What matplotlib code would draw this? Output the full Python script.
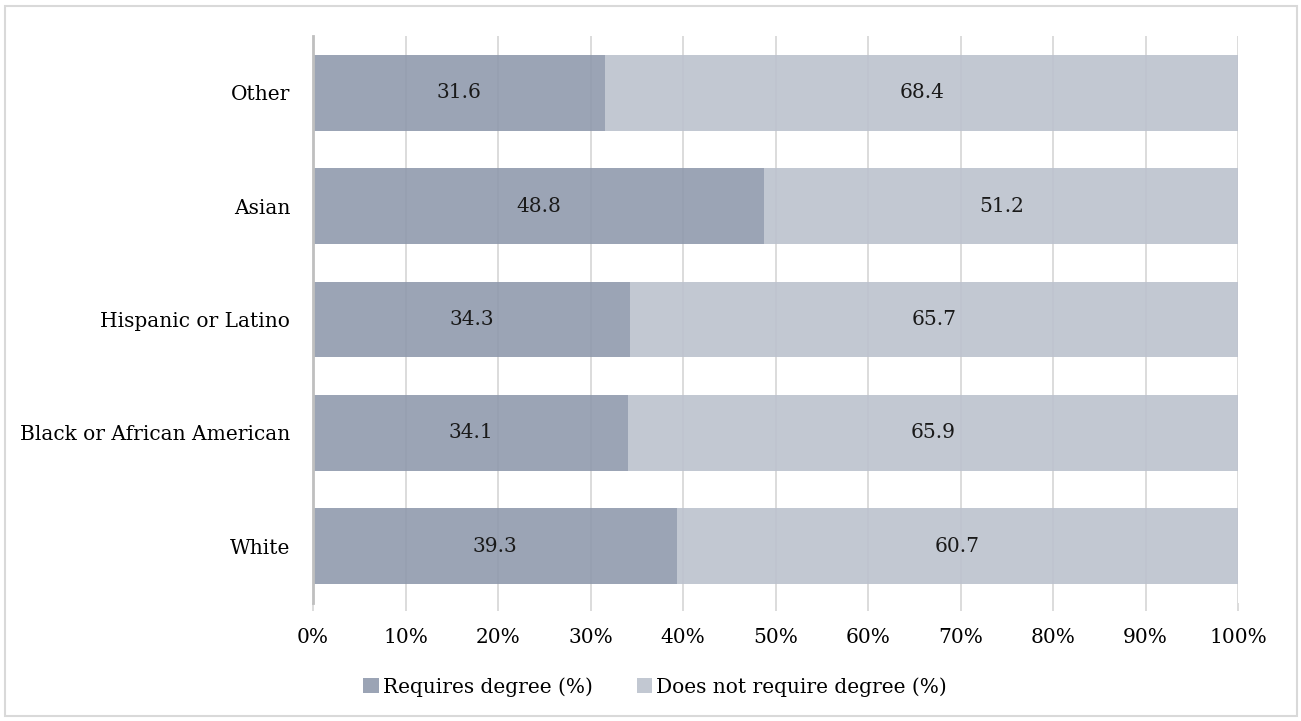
import matplotlib.pyplot as plt
import matplotlib.patches as patches
from matplotlib.ticker import PercentFormatter

# data
groups = ["White", "Black or African American", "Hispanic or Latino", "Asian", "Other"]
requires = [39.3, 34.1, 34.3, 48.8, 31.6]
not_requires = [60.7, 65.9, 65.7, 51.2, 68.4]
legend_labels = ["Requires degree (%)", "Does not require degree (%)"]

dark = "#909AAD"
light = "#BCC2CE"
fs = 14.5

plt.rcParams['font.family'] = ['DejaVu Serif']

fig = plt.figure(figsize=(13.01, 7.21), dpi=100)
ax = fig.add_axes([313 / 1301, 1 - 603 / 721, 925 / 1301, 567 / 721])

y = range(len(groups))
b1 = ax.barh(y, requires, height=0.67, color=dark, alpha=0.9,
             label=legend_labels[0], zorder=3)
b2 = ax.barh(y, not_requires, left=requires, height=0.67, color=light, alpha=0.9,
             label=legend_labels[1], zorder=3)

for bars, vals in ((b1, requires), (b2, not_requires)):
    for rect, v in zip(bars, vals):
        ax.text(rect.get_x() + rect.get_width() / 2, rect.get_y() + rect.get_height() / 2,
                f"{v:.1f}", ha='center', va='center', fontsize=fs, color='#1a1a1a', zorder=4)

ax.set_xlim(0, 100)
ax.set_ylim(-0.5, 4.5)
ax.set_yticks(list(y))
ax.set_yticklabels(groups, fontsize=fs)
ax.set_xticks(range(0, 101, 10))
ax.xaxis.set_major_formatter(PercentFormatter(decimals=0))
ax.tick_params(axis='x', labelsize=fs, length=6, color='#D9D9D9', width=1.3, pad=12)
ax.tick_params(axis='y', length=0, pad=16.5)

ax.grid(axis='x', color='#D9D9D9', linewidth=1.3, zorder=1)
ax.set_axisbelow(True)
for s in ['top', 'right', 'bottom']:
    ax.spines[s].set_visible(False)
ax.spines['left'].set_color('#BFBFBF')
ax.spines['left'].set_linewidth(2)
ax.spines['left'].set_zorder(5)

fig.legend(handles=[b1, b2], loc='center', bbox_to_anchor=(655 / 1301, 1 - 687 / 721),
           ncol=2, frameon=False, fontsize=fs, handlelength=0.75, handleheight=0.75,
           handletextpad=0.2, columnspacing=2.2)

border = patches.Rectangle((5 / 1301, 5 / 721), 1292 / 1301, 710 / 721,
                           transform=fig.transFigure, fill=False,
                           edgecolor='#D9D9D9', linewidth=1.5)
fig.patches.append(border)

fig.savefig("out.png", dpi=100)
